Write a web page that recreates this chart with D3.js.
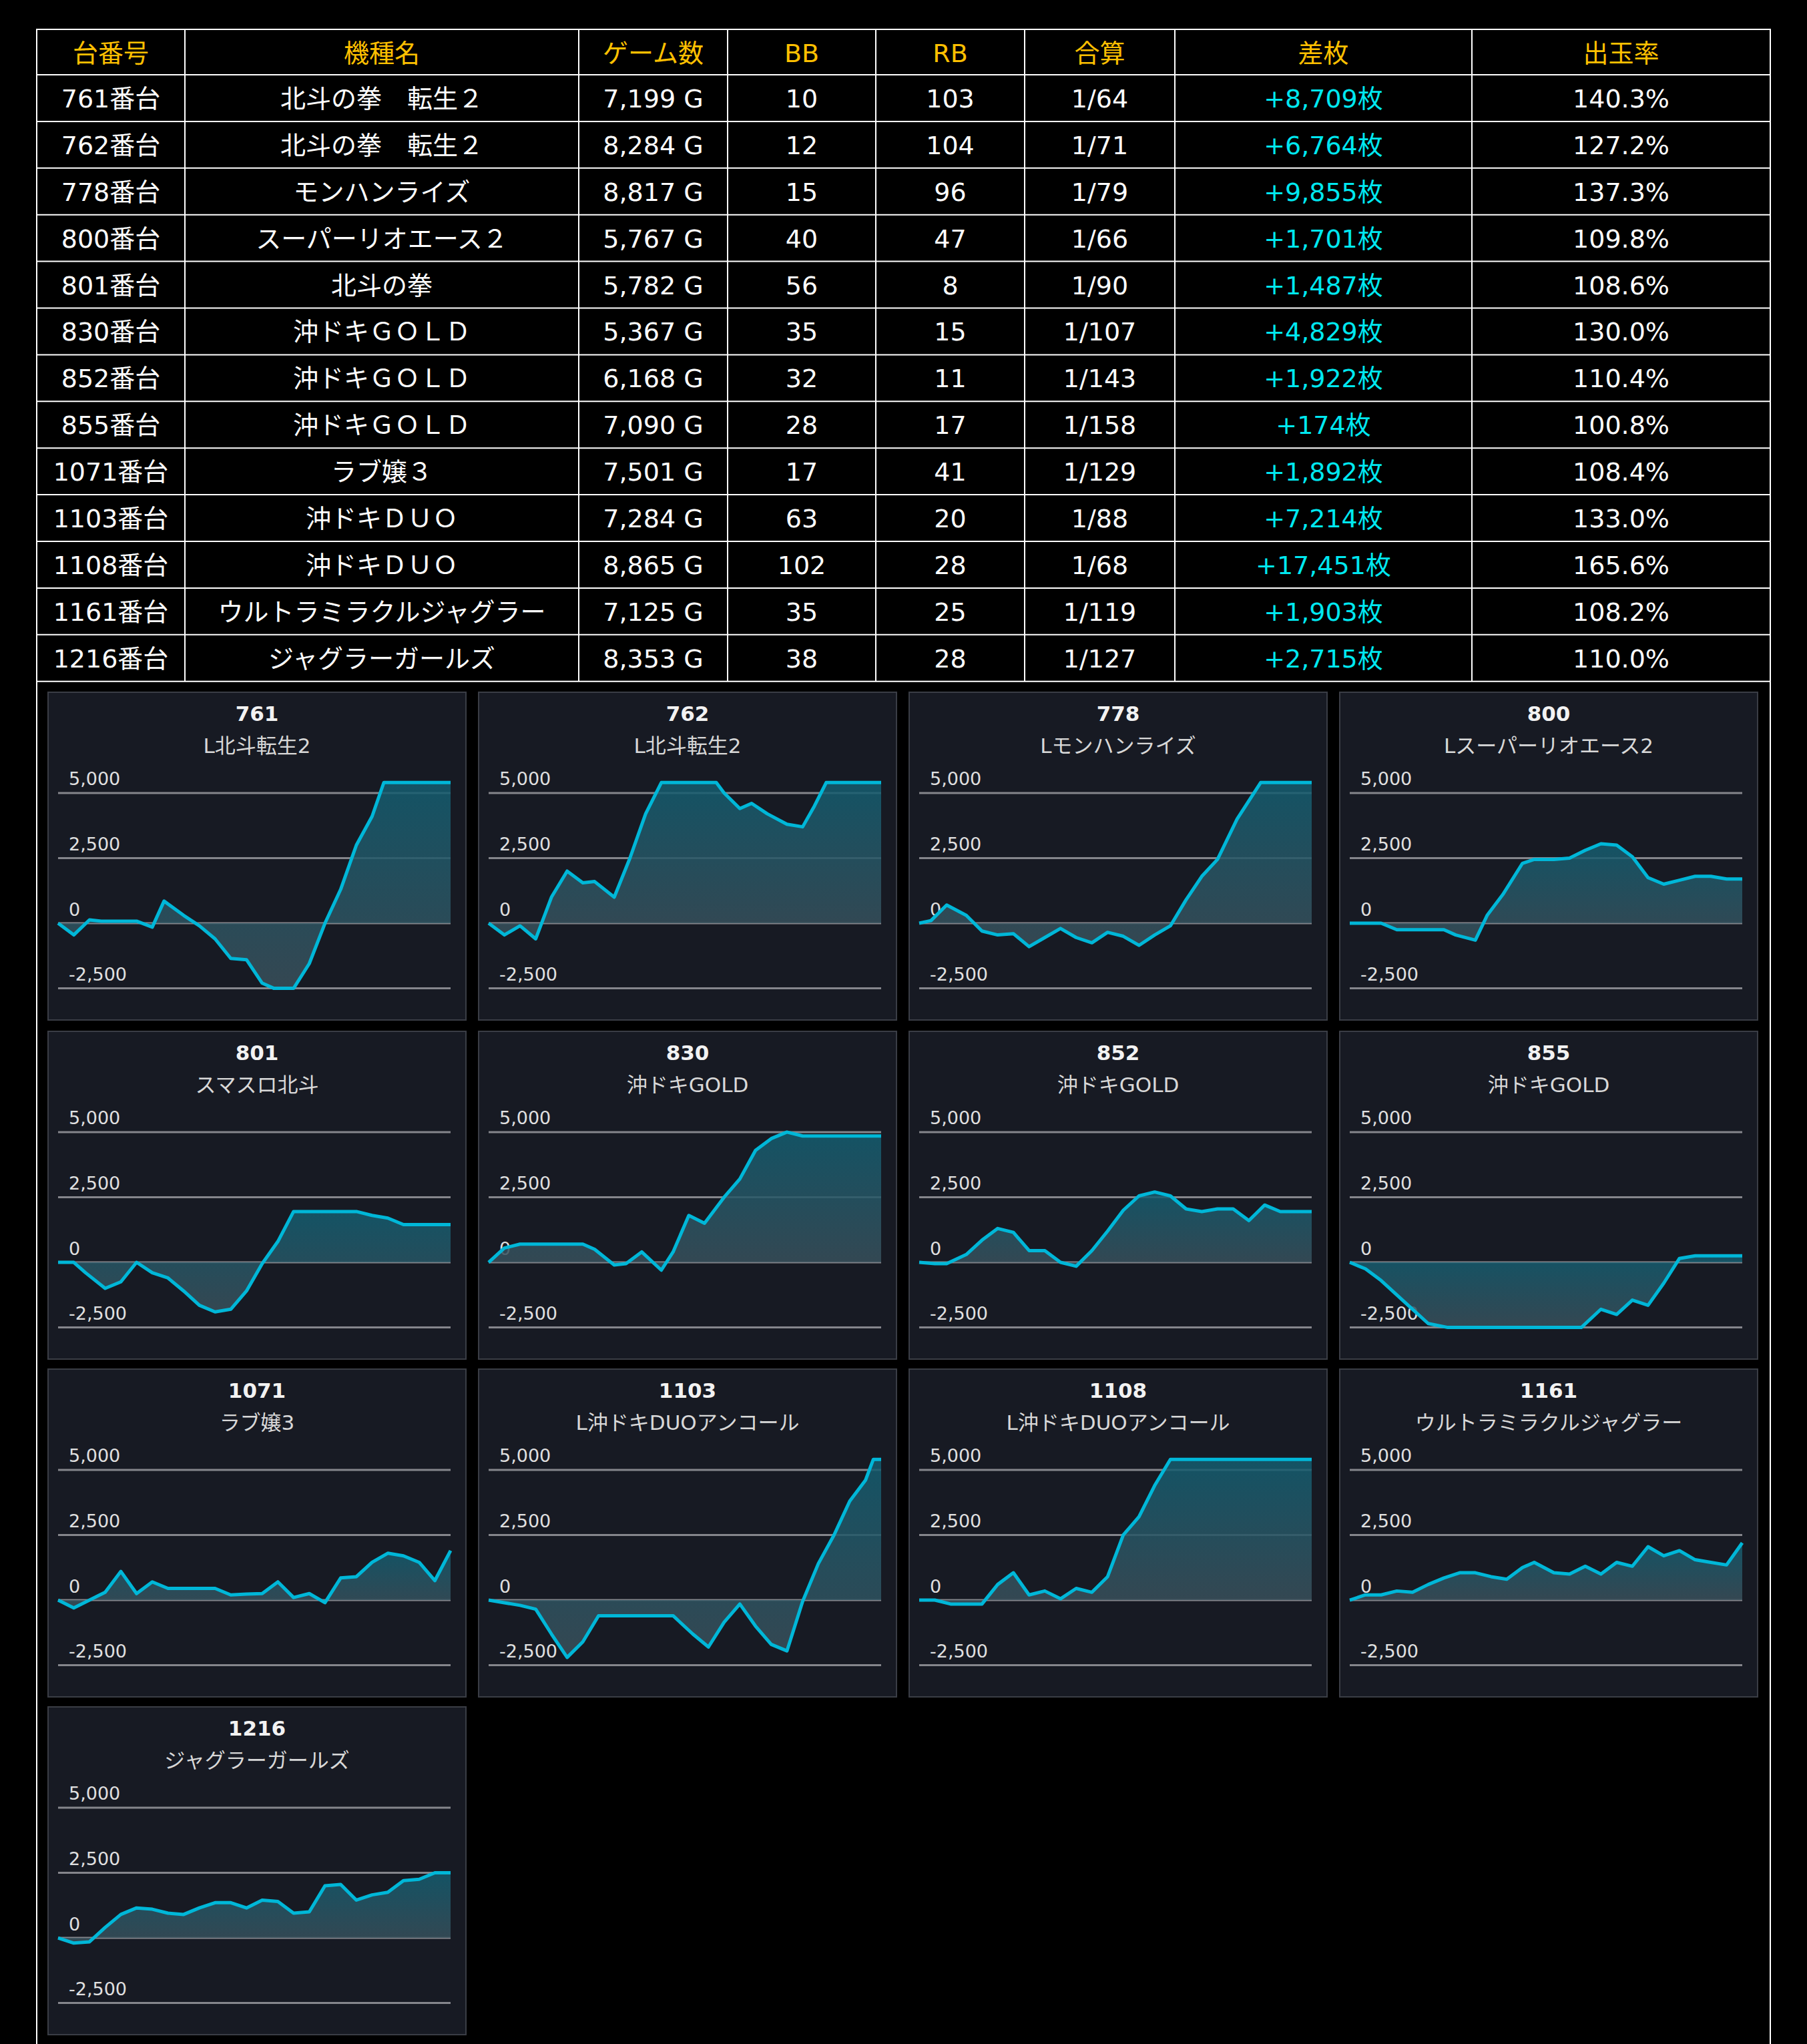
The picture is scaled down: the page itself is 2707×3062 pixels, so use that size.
<!DOCTYPE html>
<html>
<head>
<meta charset="utf-8">
<script src="https://cdn.jsdelivr.net/npm/d3@7"></script>
<style>
  html, body { margin: 0; padding: 0; background: #000; }
  svg { display: block; }
  text { font-family: "DejaVu Sans", "Noto Sans CJK JP", sans-serif; }
</style>
</head>
<body>
<svg id="fig" width="2707" height="3062"></svg>
<script>
// ---- DATA ------------------------------------------------------------------

var headers = ['台番号', '機種名', 'ゲーム数', 'BB', 'RB', '合算', '差枚', '出玉率'];

var machineNo = [761, 762, 778, 800, 801, 830, 852, 855, 1071, 1103, 1108, 1161, 1216];
var machineName = ['北斗の拳　転生２', '北斗の拳　転生２', 'モンハンライズ', 'スーパーリオエース２', '北斗の拳',
	'沖ドキＧＯＬＤ', '沖ドキＧＯＬＤ', '沖ドキＧＯＬＤ', 'ラブ嬢３', '沖ドキＤＵＯ', '沖ドキＤＵＯ',
	'ウルトラミラクルジャグラー', 'ジャグラーガールズ'];
var games = [7199, 8284, 8817, 5767, 5782, 5367, 6168, 7090, 7501, 7284, 8865, 7125, 8353];
var bb = [10, 12, 15, 40, 56, 35, 32, 28, 17, 63, 102, 35, 38];
var rb = [103, 104, 96, 47, 8, 15, 11, 17, 41, 20, 28, 25, 28];
var gassan = ['1/64', '1/71', '1/79', '1/66', '1/90', '1/107', '1/143', '1/158', '1/129', '1/88', '1/68', '1/119', '1/127'];
var samai = [8709, 6764, 9855, 1701, 1487, 4829, 1922, 174, 1892, 7214, 17451, 1903, 2715];
var rate = ['140.3%', '127.2%', '137.3%', '109.8%', '108.6%', '130.0%', '110.4%', '100.8%', '108.4%', '133.0%', '165.6%', '108.2%', '110.0%'];

var chartTitle = ['L北斗転生2', 'L北斗転生2', 'Lモンハンライズ', 'Lスーパーリオエース2', 'スマスロ北斗',
	'沖ドキGOLD', '沖ドキGOLD', '沖ドキGOLD', 'ラブ嬢3', 'L沖ドキDUOアンコール', 'L沖ドキDUOアンコール',
	'ウルトラミラクルジャグラー', 'ジャグラーガールズ'];

var yTicks = [5000, 2500, 0, -2500];

// slump graphs: [progress %, difference]
var slump761 = [[0,0],[4,-450],[8,130],[11,80],[20,80],[24,-150],[27,850],[32,300],[36,-100],[40,-600],[44,-1350],[48,-1400],[52,-2300],[55,-2700],[60,-2700],[64,-1550],[68,0],[72,1300],[76,3000],[80,4100],[83,5600],[100,5600]];
var slump762 = [[0,0],[4,-450],[8,-100],[12,-600],[16,1000],[20,2000],[24,1550],[27,1600],[32,1000],[36,2500],[40,4200],[44,5600],[58,5600],[60,5000],[64,4400],[67,4600],[71,4200],[76,3800],[80,3700],[83,4500],[86,5600],[100,5600]];
var slump778 = [[0,0],[3,100],[7,700],[12,300],[16,-300],[20,-450],[24,-400],[28,-900],[32,-550],[36,-200],[40,-550],[44,-750],[48,-350],[52,-500],[56,-850],[60,-450],[64,-100],[68,900],[72,1800],[76,2450],[81,4000],[87,5600],[100,5600]];
var slump800 = [[0,0],[8,0],[12,-250],[24,-250],[27,-450],[32,-650],[35,300],[39,1100],[44,2300],[47,2450],[52,2450],[56,2500],[60,2800],[64,3050],[68,3000],[72,2550],[76,1750],[80,1500],[84,1650],[88,1800],[92,1800],[96,1700],[100,1700]];
var slump801 = [[0,0],[4,0],[7,-400],[12,-1000],[16,-750],[20,0],[24,-400],[28,-600],[32,-1100],[36,-1650],[40,-1900],[44,-1800],[48,-1100],[52,-50],[56,800],[60,1950],[76,1950],[80,1800],[84,1700],[88,1450],[100,1450]];
var slump830 = [[0,0],[4,550],[8,700],[24,700],[27,500],[32,-100],[35,-50],[39,400],[44,-300],[47,400],[51,1800],[55,1500],[60,2500],[64,3200],[68,4300],[72,4750],[76,5000],[80,4850],[100,4850]];
var slump852 = [[0,0],[4,-50],[7,-50],[12,300],[16,850],[20,1300],[24,1150],[28,450],[32,450],[36,0],[40,-150],[44,450],[48,1200],[52,2000],[56,2550],[60,2700],[64,2550],[68,2050],[72,1950],[76,2050],[80,2050],[84,1600],[88,2200],[92,1950],[100,1950]];
var slump855 = [[0,0],[4,-250],[8,-700],[12,-1250],[16,-1800],[20,-2350],[25,-2600],[59,-2600],[64,-1800],[68,-2000],[72,-1450],[76,-1650],[80,-800],[84,150],[88,250],[100,250]];
var slump1071 = [[0,0],[4,-300],[8,0],[12,300],[16,1100],[20,250],[24,700],[28,450],[40,450],[44,200],[48,230],[52,250],[56,700],[60,100],[64,250],[68,-100],[72,850],[76,900],[80,1450],[84,1800],[88,1700],[92,1450],[96,750],[100,1900]];
var slump1103 = [[0,0],[4,-100],[8,-200],[12,-350],[16,-1300],[20,-2200],[24,-1600],[28,-600],[47,-600],[52,-1300],[56,-1800],[60,-850],[64,-150],[68,-1000],[72,-1700],[76,-1950],[80,-50],[84,1400],[88,2500],[92,3800],[96,4600],[98,5600],[100,5600]];
var slump1108 = [[0,0],[4,0],[8,-150],[16,-150],[20,600],[24,1050],[28,200],[32,350],[36,50],[40,450],[44,300],[48,900],[52,2500],[56,3200],[60,4400],[64,5600],[100,5600]];
var slump1161 = [[0,0],[4,200],[8,200],[12,350],[16,300],[20,600],[24,850],[28,1050],[32,1050],[36,900],[40,800],[44,1250],[47,1450],[52,1050],[56,1000],[60,1300],[64,1000],[68,1450],[72,1300],[76,2050],[80,1700],[84,1900],[88,1550],[92,1450],[96,1350],[100,2200]];
var slump1216 = [[0,0],[4,-200],[8,-150],[12,400],[16,900],[20,1150],[24,1100],[28,950],[32,900],[36,1150],[40,1350],[44,1350],[48,1150],[52,1450],[56,1400],[60,950],[64,1000],[68,2000],[72,2050],[76,1450],[80,1650],[84,1750],[88,2200],[92,2250],[96,2500],[100,2500]];

var slumps = [slump761, slump762, slump778, slump800, slump801, slump830, slump852, slump855,
	slump1071, slump1103, slump1108, slump1161, slump1216];

// ---- SETUP -----------------------------------------------------------------

var svg = d3.select('#fig');
var fmt = d3.format(',');
function tickFmt(d) { return fmt(d).replace('\u2212', '-'); }

var colEdges = [55, 277, 867, 1090, 1312, 1535, 1760, 2205, 2652];
var tableTop = 44, headH = 68, rowH = 69.9;

svg.append('rect').attr('width', 2707).attr('height', 3062).attr('fill', '#000');

// outer container lines
svg.append('rect')
	.attr('x', colEdges[0]).attr('y', tableTop)
	.attr('width', colEdges[8] - colEdges[0]).attr('height', 3100)
	.attr('fill', 'none').attr('stroke', '#fff').attr('stroke-width', 2);

// ---- TABLE -----------------------------------------------------------------

var rows = machineNo.map(function(d, i) {
	return [d + '番台', machineName[i], fmt(games[i]) + ' G', bb[i], rb[i], gassan[i],
		'+' + fmt(samai[i]) + '枚', rate[i]];
});

var tableBottom = tableTop + headH + rowH * rows.length;
var tbl = svg.append('g');

var lineYs = [tableTop, tableTop + headH].concat(rows.map(function(d, i) { return tableTop + headH + rowH * (i + 1); }));
tbl.selectAll('line.h').data(lineYs).enter().append('line')
	.attr('x1', colEdges[0]).attr('x2', colEdges[8])
	.attr('y1', d => d).attr('y2', d => d)
	.attr('stroke', '#fff').attr('stroke-width', 2);
tbl.selectAll('line.v').data(colEdges).enter().append('line')
	.attr('x1', d => d).attr('x2', d => d)
	.attr('y1', tableTop).attr('y2', tableBottom)
	.attr('stroke', '#fff').attr('stroke-width', 2);

function colMid(j) { return (colEdges[j] + colEdges[j + 1]) / 2; }

tbl.selectAll('text.hd').data(headers).enter().append('text')
	.attr('x', (d, j) => colMid(j)).attr('y', tableTop + headH / 2 + 2)
	.attr('text-anchor', 'middle').attr('dominant-baseline', 'central')
	.attr('font-size', 38).attr('fill', '#ffc000')
	.text(d => d);

rows.forEach(function(r, i) {
	var yc = tableTop + headH + rowH * i + rowH / 2 + 1;
	tbl.selectAll(null).data(r).enter().append('text')
		.attr('x', (d, j) => colMid(j)).attr('y', yc)
		.attr('text-anchor', 'middle').attr('dominant-baseline', 'central')
		.attr('font-size', 38)
		.attr('fill', (d, j) => j === 6 ? '#00e8f0' : '#fff')
		.text(d => d);
});

// ---- SLUMP CHARTS ----------------------------------------------------------

var panelX = [72, 717, 1362, 2007], panelY = [1037, 1545, 2051, 2557];
var panelW = 626, panelH = 491;

var defs = svg.append('defs');
var grad = defs.append('linearGradient').attr('id', 'fillGrad')
	.attr('x1', 0).attr('y1', 0).attr('x2', 0).attr('y2', 1);
grad.append('stop').attr('offset', '0%').attr('stop-color', '#135d70');
grad.append('stop').attr('offset', '100%').attr('stop-color', '#3a4f5a');

var x = d3.scaleLinear().domain([0, 100]).range([15, 603]);
var y = d3.scaleLinear().domain([-2500, 5400]).range([443.6, 135.3]).clamp(true);

var area = d3.area().x(d => x(d[0])).y0(y(0)).y1(d => y(d[1]));
var line = d3.line().x(d => x(d[0])).y(d => y(d[1]));

slumps.forEach(function(s, i) {
	var g = svg.append('g')
		.attr('transform', 'translate(' + panelX[i % 4] + ',' + panelY[Math.floor(i / 4)] + ')');

	g.append('rect').attr('width', panelW).attr('height', panelH)
		.attr('fill', '#171a23').attr('stroke', '#3a3d45').attr('stroke-width', 2);

	g.append('text').attr('x', panelW / 2).attr('y', 32)
		.attr('text-anchor', 'middle').attr('dominant-baseline', 'central')
		.attr('font-size', 31).attr('font-weight', 'bold').attr('fill', '#f2f2f2')
		.text(machineNo[i]);
	g.append('text').attr('x', panelW / 2).attr('y', 80)
		.attr('text-anchor', 'middle').attr('dominant-baseline', 'central')
		.attr('font-size', 31).attr('fill', '#d8d8d8')
		.text(chartTitle[i]);

	g.selectAll('line.grid').data(yTicks).enter().append('line')
		.attr('x1', x(0)).attr('x2', x(100))
		.attr('y1', d => y(d)).attr('y2', d => y(d))
		.attr('stroke', '#85868c').attr('stroke-width', 3);
	g.selectAll('text.tick').data(yTicks).enter().append('text')
		.attr('x', 31).attr('y', d => y(d) - 21)
		.attr('dominant-baseline', 'central')
		.attr('font-size', 27).attr('fill', '#e0e0e0')
		.text(d => tickFmt(d));

	g.append('path').datum(s).attr('d', area)
		.attr('fill', 'url(#fillGrad)').attr('fill-opacity', 0.85);
	g.append('path').datum(s).attr('d', line)
		.attr('fill', 'none').attr('stroke', '#00b7d8').attr('stroke-width', 5)
		.attr('stroke-linejoin', 'round');
});
</script>
</body>
</html>
